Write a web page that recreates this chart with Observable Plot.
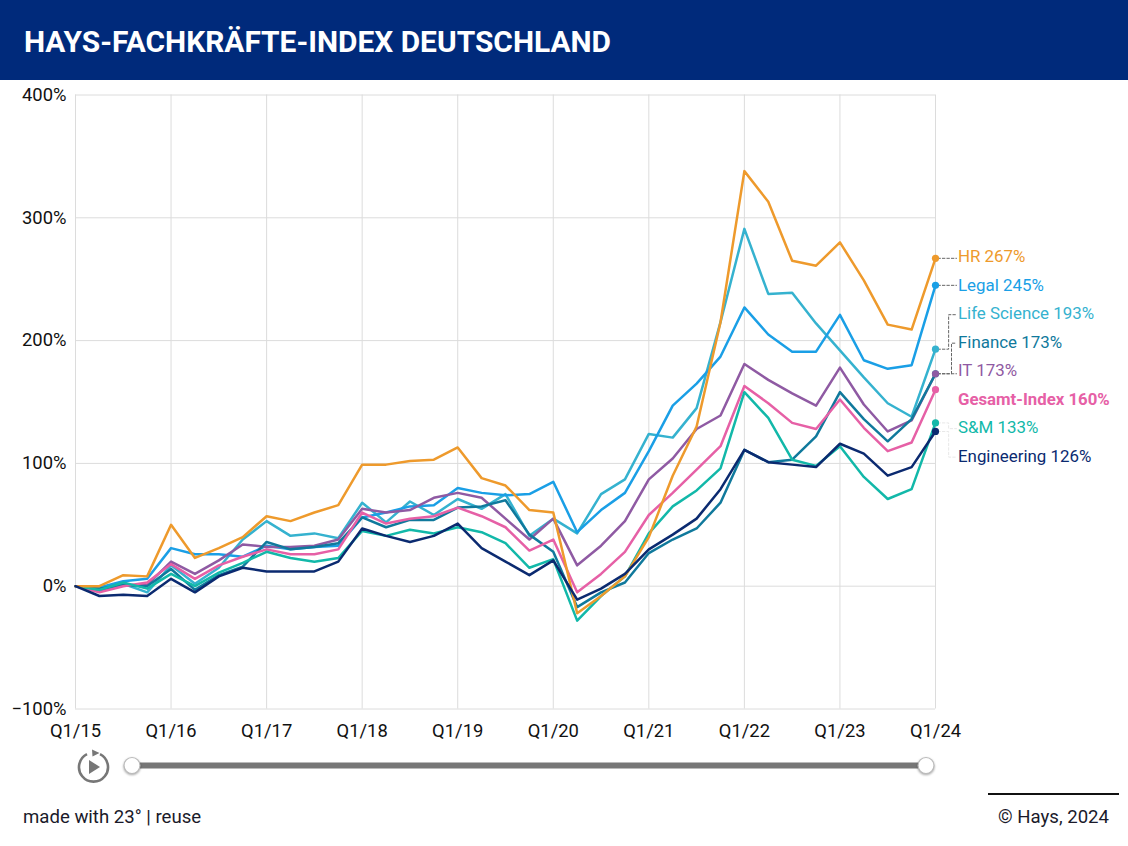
<!DOCTYPE html>
<html lang="de">
<head>
<meta charset="utf-8">
<script src="https://cdn.jsdelivr.net/npm/d3@7"></script>
<script src="https://cdn.jsdelivr.net/npm/@observablehq/plot@0.6"></script>
<style>
html,body{margin:0;padding:0;background:#fff;font-family:Roboto,sans-serif;color:#1a1a2a}
#wrap{position:relative;width:1128px;height:846px;overflow:hidden}
#head{height:80px;background:#002a7b;color:#fff;font:700 29.9px/84px Roboto,sans-serif;padding-left:24px;box-sizing:border-box}
#chart{position:absolute;left:0;top:80px}
#chart svg{overflow:visible;display:block}
#ctl{position:absolute;left:0;top:740px}
#ctl .h{filter:drop-shadow(0 1px 1px rgba(0,0,0,.35))}
#made{position:absolute;left:23px;top:806px;font-size:18.6px;line-height:22px}
#rule{position:absolute;left:988px;width:131px;top:793px;height:2px;background:#111}
#src{position:absolute;right:19px;top:806px;font-size:18.6px;line-height:22px}
</style>
</head>
<body>
<div id="wrap">
<div id="head">HAYS-FACHKRÄFTE-INDEX DEUTSCHLAND</div>
<div id="chart"></div>
<svg id="ctl" width="1128" height="50">
  <rect x="132" y="22.5" width="794" height="6" fill="#777"/>
  <circle class="h" cx="132" cy="25.5" r="8" fill="#fff" stroke="#bbb" stroke-width="1.2"/>
  <circle class="h" cx="926" cy="25.5" r="8" fill="#fff" stroke="#bbb" stroke-width="1.2"/>
  <path d="M100 14.2 A14.5 14.5 0 1 1 87 14.2" fill="none" stroke="#777" stroke-width="2.6"/>
  <path d="M92 9.5 L99.5 13 L92.5 16.5 Z" fill="#777"/>
  <path d="M89 20 L100 27 L89 34 Z" fill="#777"/>
</svg>
<div id="made">made with 23° | reuse</div>
<div id="rule"></div>
<div id="src">© Hays, 2024</div>
</div>
<script>
const quarters = ["Q1/15","Q2/15","Q3/15","Q4/15","Q1/16","Q2/16","Q3/16","Q4/16","Q1/17","Q2/17","Q3/17","Q4/17","Q1/18","Q2/18","Q3/18","Q4/18","Q1/19","Q2/19","Q3/19","Q4/19","Q1/20","Q2/20","Q3/20","Q4/20","Q1/21","Q2/21","Q3/21","Q4/21","Q1/22","Q2/22","Q3/22","Q4/22","Q1/23","Q2/23","Q3/23","Q4/23","Q1/24"];
const hr          = [0,0,9,8,50,23,31,40,57,53,60,66,99,99,102,103,113,88,82,62,60,-22,-8,8,40,90,130,215,338,313,265,261,280,249,213,209,267];
const legal       = [0,-1,4,6,31,26,26,24,33,30,32,33,56,60,65,66,80,76,74,75,85,44,62,76,110,147,165,187,227,205,191,191,221,184,177,180,245];
const lifeScience = [0,-2,2,-5,17,2,15,38,53,41,43,39,68,52,69,58,71,63,75,41,55,43,75,87,124,121,145,215,291,238,239,214,192,170,149,138,193];
const finance     = [0,-2,1,0,14,-3,9,16,36,30,32,35,56,48,54,54,64,65,70,42,28,-17,-5,3,27,38,47,68,111,101,103,122,158,136,118,136,173];
const it          = [0,-4,1,1,20,10,21,34,32,32,33,38,63,60,62,72,76,72,55,38,55,17,33,53,87,104,128,139,181,168,157,147,178,148,126,135,173];
const gesamt      = [0,-5,0,3,18,6,17,24,30,26,26,30,60,51,55,57,64,57,48,29,38,-5,10,28,58,76,95,114,163,149,133,128,152,129,110,117,160];
const sm          = [0,-3,3,-2,10,0,11,19,28,23,20,23,45,41,46,43,48,44,35,15,22,-28,-8,8,43,65,78,96,158,137,103,98,114,89,71,79,133];
const engineering = [0,-8,-7,-8,6,-5,8,15,12,12,12,20,47,41,36,41,51,31,20,9,21,-11,-2,10,30,42,55,79,111,101,99,97,116,108,90,97,126];

const seriesNames  = ["HR","Legal","Life Science","Finance","IT","Gesamt-Index","S&M","Engineering"];
const seriesValues = [hr,legal,lifeScience,finance,it,gesamt,sm,engineering];
const seriesColors = ["#ee9a2c","#1a9fe6","#35b2cf","#10799c","#8f5aa3","#e660a6","#12b8a9","#0b2a70"];
const labelValues  = [267,245,193,173,173,160,133,126];
const drawOrder    = ["Life Science","Legal","IT","Finance","Gesamt-Index","S&M","HR","Engineering"];
const dotOrder     = ["Life Science","Legal","Finance","IT","Gesamt-Index","S&M","HR","Engineering"];
const yTickValues  = [-100,0,100,200,300,400];
const xTickEvery   = 4;

const last = quarters.length - 1;
const rows = drawOrder.flatMap(name => {
  const values = seriesValues[seriesNames.indexOf(name)];
  return values.map((v, i) => ({name, i, v}));
});
// Labels are stacked evenly down the right margin, like the original's collision-avoided labels
const labelTop = 267.5, labelStep = 23.2, labelX = last + 0.94;
const labels = seriesNames.map((name, k) => ({
  name, y: labelTop - k * labelStep, text: `${name} ${labelValues[k]}%`
}));
const elbow = {"Life Science": last + 0.55, "Finance": last + 0.67, "S&M": last + 0.55, "Engineering": last + 0.55};
const connectors = labels.filter(l => l.name !== "Gesamt-Index").flatMap(l => {
  const end = seriesValues[seriesNames.indexOf(l.name)][last];
  const pts = [{i:last + 0.1, v:end}];
  if (elbow[l.name]) { pts.push({i:elbow[l.name], v:end}, {i:elbow[l.name], v:l.y}); }
  return [...pts, {i:labelX - 0.06, v:elbow[l.name] ? l.y : end}].map(p => ({...p, name:l.name,
    faint: l.name === "S&M" || l.name === "Engineering"}));
});
const ends = dotOrder.map(name => ({name, i: last, v: seriesValues[seriesNames.indexOf(name)][last]}));
const isBold = d => d.name === "Gesamt-Index";

const plot = Plot.plot({
  width: 1128, height: 665,
  marginLeft: 75, marginRight: 193, marginTop: 14.5, marginBottom: 36.5,
  style: {fontFamily: "Roboto, sans-serif", background: "transparent", overflow: "visible"},
  x: {type: "linear", domain: [0, last]},
  y: {domain: [-100, 400]},
  color: {domain: seriesNames, range: seriesColors},
  marks: [
    Plot.gridY(yTickValues, {stroke: "#dcdcdc", strokeOpacity: 1, strokeWidth: 1}),
    Plot.gridX(d3.range(0, quarters.length, xTickEvery), {stroke: "#dcdcdc", strokeOpacity: 1, strokeWidth: 1}),
    Plot.axisY(yTickValues, {tickSize: 0, tickPadding: 9, fontSize: 18.4, fill: "#111",
      tickFormat: d => (d < 0 ? "−" + (-d) : d) + "%", anchor: "left", label: null}),
    Plot.axisX(d3.range(0, quarters.length, xTickEvery), {tickSize: 0, tickPadding: 15, fontSize: 18.4, fill: "#111",
      tickFormat: i => quarters[i], anchor: "bottom", label: null}),
    Plot.line(rows, {x: "i", y: "v", z: "name", stroke: "name", strokeWidth: 2.5, curve: "linear"}),
    Plot.line(connectors.filter(d => !d.faint), {x: "i", y: "v", z: "name", stroke: "#666", strokeWidth: 1, strokeDasharray: "2.5,2", curve: "linear"}),
    Plot.line(connectors.filter(d => d.faint), {x: "i", y: "v", z: "name", stroke: "#e8e8e8", strokeWidth: 1, strokeDasharray: "2.5,2", curve: "linear"}),
    Plot.dot(ends, {x: "i", y: "v", fill: "name", r: 3.6}),
    Plot.text(labels.filter(d => !isBold(d)), {x: () => labelX, y: "y", text: "text", fill: "name", textAnchor: "start", fontSize: 16.9, dy: -1}),
    Plot.text(labels.filter(isBold), {x: () => labelX, y: "y", text: "text", fill: "name", textAnchor: "start", fontSize: 16.8, fontWeight: 700, dy: -1})
  ]
});
document.getElementById("chart").append(plot);
</script>
</body>
</html>
